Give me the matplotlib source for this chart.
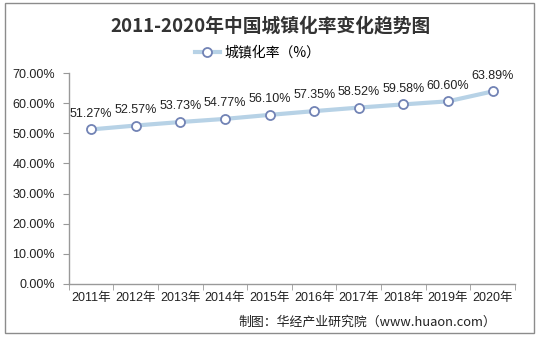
import matplotlib.pyplot as plt
import numpy as np
from matplotlib.patches import Rectangle

plt.rcParams['font.family'] = ['Liberation Sans', 'Noto Sans CJK SC', 'DejaVu Sans']

years = ['2011年', '2012年', '2013年', '2014年', '2015年',
         '2016年', '2017年', '2018年', '2019年', '2020年']
rates = [51.27, 52.57, 53.73, 54.77, 56.10, 57.35, 58.52, 59.58, 60.60, 63.89]
yticks = [0, 10, 20, 30, 40, 50, 60, 70]

fig = plt.figure(figsize=(5.42, 3.38), dpi=100)
ax = fig.add_axes([0.127, 0.160, 0.823, 0.624])

x = np.arange(len(years))
line, = ax.plot(x, rates, color='#b7d2e6', linewidth=3, marker='o', markersize=6.5,
                markerfacecolor='white', markeredgecolor='#7283b5', markeredgewidth=1.3,
                label='城镇化率（%）', zorder=3)

for xi, v in zip(x, rates):
    ax.annotate(f'{v:.2f}%', (xi, v), xytext=(0, 7), textcoords='offset points',
                ha='center', va='bottom', fontsize=9, color='#222222')

ax.set_xlim(-0.5, len(years) - 0.5)
ax.set_ylim(0, 70)
ax.set_yticks(yticks)
ax.set_yticklabels([f'{t:.2f}%' for t in yticks], fontsize=9, color='#222222')
ax.set_xticks(x)
ax.set_xticklabels(years, fontsize=9, color='#222222')
ax.set_xticks(np.arange(-0.5, len(years), 1), minor=True)
ax.tick_params(axis='x', which='major', length=0, pad=6)
ax.tick_params(axis='x', which='minor', length=4, color='#999999', direction='out')
ax.tick_params(axis='y', length=4, color='#999999', direction='out', pad=6)

for side in ['top', 'right']:
    ax.spines[side].set_visible(False)
for side in ['left', 'bottom']:
    ax.spines[side].set_color('#999999')
    ax.spines[side].set_linewidth(1)

fig.text(0.5, 0.922, '2011-2020年中国城镇化率变化趋势图', ha='center', va='center',
         fontsize=13.5, fontweight='bold', color='#333333',
         family=['Noto Sans CJK SC', 'DejaVu Sans'])

fig.legend(handles=[line], loc='center', bbox_to_anchor=(0.475, 0.845), frameon=False,
           handlelength=1.8, handletextpad=0.3,
           prop={'family': ['Noto Sans CJK SC', 'DejaVu Sans'], 'size': 10})

fig.text(0.915, 0.047, '制图：华经产业研究院（www.huaon.com）', ha='right', va='center',
         fontsize=9.3, color='#222222', family=['Noto Sans CJK SC', 'DejaVu Sans'])

fig.patches.append(Rectangle((5 / 542, 5 / 338), 529 / 542, 330 / 338, transform=fig.transFigure,
                             fill=False, edgecolor='#8c8c8c', linewidth=1))

fig.savefig('out.png', dpi=100)
